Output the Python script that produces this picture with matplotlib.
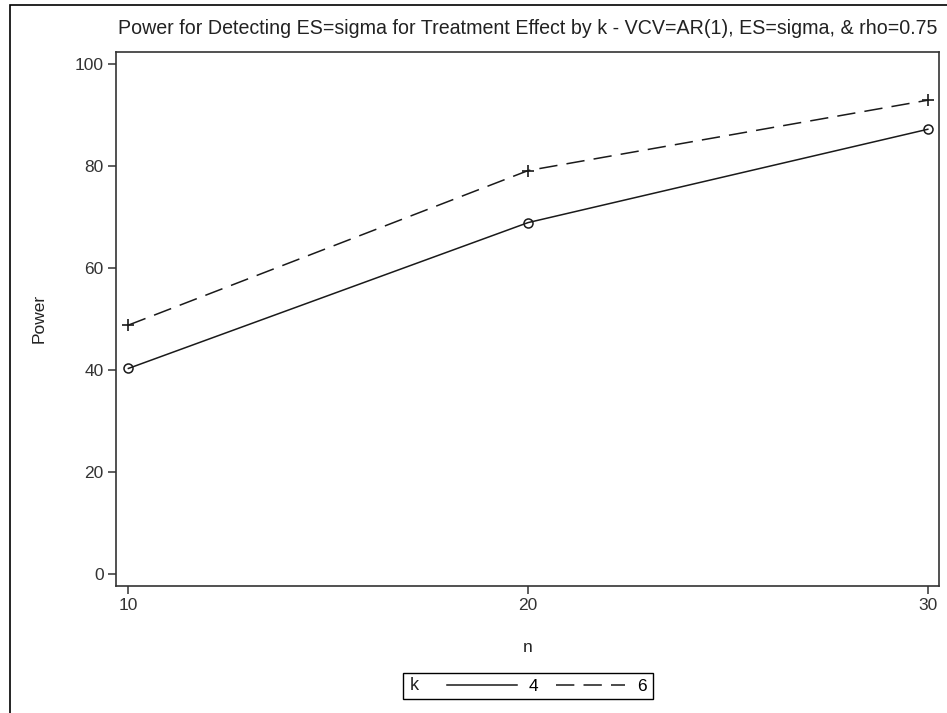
import matplotlib
matplotlib.use('Agg')
import matplotlib.pyplot as plt
from matplotlib.patches import Rectangle

plt.rcParams['font.family'] = ['Liberation Sans', 'DejaVu Sans']
plt.rcParams['font.size'] = 12.5

# values
n_values = [10, 20, 30]
k_labels = ['4', '6']
power_k4 = [40.3, 68.9, 87.2]
power_k6 = [48.8, 79.1, 92.9]
y_ticks = [0, 20, 40, 60, 80, 100]
title = 'Power for Detecting ES=sigma for Treatment Effect by k - VCV=AR(1), ES=sigma, & rho=0.75'

W, H = 947, 713
fig = plt.figure(figsize=(W / 100, H / 100), dpi=100)
ax = fig.add_axes([116 / W, 1 - 585.7 / H, (939 - 116) / W, (585.7 - 52) / H])

# outer frame around the graph (left and top edges visible)
fig.patches.append(Rectangle((10 / W, -0.1), 1.2, 1.1 - 5 / H, transform=fig.transFigure,
                             fill=False, edgecolor='black', linewidth=1.2))

line_col = '#1a1a1a'
l4, = ax.plot(n_values, power_k4, color=line_col, linewidth=1.1, linestyle='-',
              marker='o', markersize=6.5, markerfacecolor='none', markeredgewidth=1.1)
l6, = ax.plot(n_values, power_k6, color=line_col, linewidth=1.1, linestyle=(0, (12, 6)),
              marker='+', markersize=8, markeredgewidth=1.2)

ax.set_xlim(9.69, 30.28)
ax.set_ylim(-2.3, 102.35)
ax.set_xticks(n_values)
ax.set_yticks(y_ticks)
ax.tick_params(direction='out', length=6, width=1.1, colors='#333333', labelsize=12.5, pad=3)
for s in ax.spines.values():
    s.set_linewidth(1.2)
    s.set_color('#333333')

ax.set_title(title, fontsize=14.1, color='#222222', pad=13)
ax.set_ylabel('Power', fontsize=12.5, color='#222222', labelpad=20)
ax.set_xlabel('n', fontsize=12.5, color='#222222', labelpad=19)

# legend: frame + "k" heading drawn separately, entries from the lines
fig.patches.append(Rectangle((403 / W, 1 - 699 / H), 250 / W, 26 / H, transform=fig.transFigure,
                             fill=False, edgecolor='black', linewidth=1.0))
fig.text(410 / W, 1 - 686 / H, 'k', ha='left', va='center', fontsize=13, color='#222222')
leg = fig.legend([l4, l6], k_labels, loc='center', bbox_to_anchor=(547 / W, 1 - 686 / H),
                 ncol=2, frameon=False, handlelength=4.0, handletextpad=0.7,
                 columnspacing=1.0, borderpad=0.2, fontsize=12.5)
for h in leg.legend_handles:
    h.set_marker('')

fig.savefig('out.png', dpi=100)
